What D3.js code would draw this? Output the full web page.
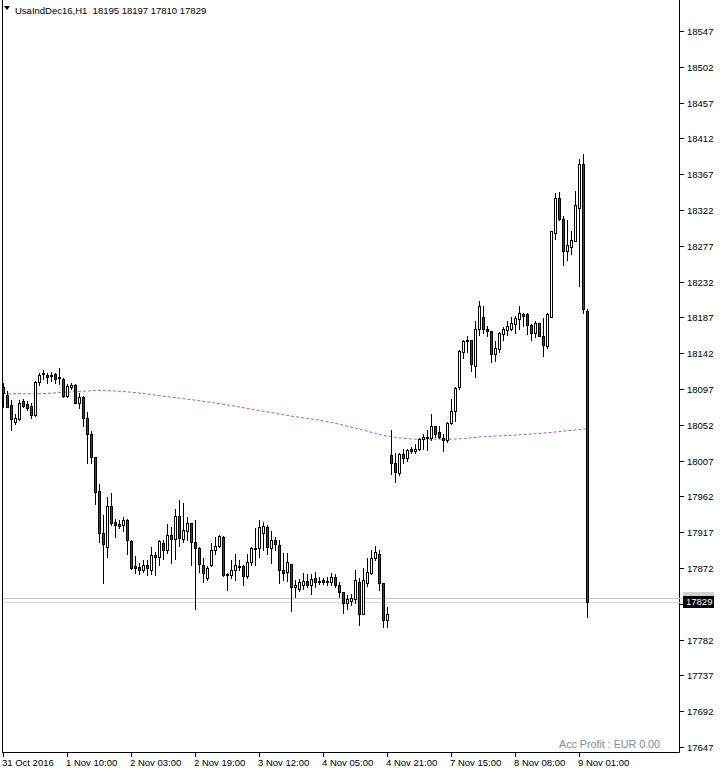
<!DOCTYPE html>
<html><head><meta charset="utf-8">
<script src="https://cdn.jsdelivr.net/npm/d3@7"></script>
<style>
html,body{margin:0;padding:0;background:#fff;}
svg text{font-family:'Liberation Sans Narrow','Liberation Sans',Arial,sans-serif;font-size:9.5px;}
svg text.profit{font-size:10.7px;}
</style></head>
<body>
<svg id="c" width="720" height="773"></svg>
<script>
const symbolTitle = "UsaIndDec16,H1";
const timeLabels = ["31 Oct 2016","1 Nov 10:00","2 Nov 03:00","2 Nov 19:00","3 Nov 12:00","4 Nov 05:00","4 Nov 21:00","7 Nov 15:00","8 Nov 08:00","9 Nov 01:00"];
const timeLabelIndex = [0,16,32,48,64,80,96,112,128,144];
const priceTicks = [18547,18502,18457,18412,18367,18322,18277,18232,18187,18142,18097,18052,18007,17962,17917,17872,17827,17782,17737,17692,17647];
const bidPrice = 17829;
const askPrice = 17834;

const opens = [18099,18090,18077,18056,18059,18082,18078,18076,18064,18106,18116,18115,18113,18116,18112,18110,18088,18099,18102,18079,
18087,18060,18040,18011,17969,17916,17899,17950,17930,17927,17926,17932,17906,17874,17873,17870,17876,17870,17888,17886,
17903,17895,17914,17909,17937,17908,17918,17929,17905,17897,17876,17860,17876,17894,17900,17911,17864,17863,17869,17875,
17874,17862,17879,17897,17897,17916,17924,17897,17907,17901,17870,17867,17877,17848,17845,17851,17856,17851,17859,17856,
17857,17856,17854,17861,17851,17842,17828,17831,17833,17854,17814,17853,17866,17885,17890,17853,17807,18014,18004,17991,
18015,18010,18021,18019,18022,18034,18037,18036,18050,18043,18035,18033,18054,18069,18099,18144,18159,18159,18126,18173,
18187,18173,18170,18141,18147,18166,18171,18173,18179,18185,18191,18191,18177,18168,18180,18163,18151,18188,18293,18337,
18311,18271,18276,18283,18325,18380,18195];
const highs = [18104,18094,18083,18066,18083,18085,18082,18079,18107,18117,18121,18117,18118,18117,18124,18111,18103,18104,18103,18092,
18088,18068,18044,18011,17978,17939,17961,17966,17934,17932,17936,17933,17907,17887,17878,17882,17882,17899,17892,17907,
17907,17927,17923,17946,17957,17954,17936,17929,17932,17899,17884,17874,17904,17911,17913,17912,17866,17882,17890,17882,
17876,17890,17899,17922,17932,17930,17926,17918,17911,17907,17891,17891,17877,17857,17858,17866,17865,17864,17867,17861,
17859,17861,17866,17864,17855,17842,17838,17839,17869,17860,17872,17884,17894,17900,17894,17853,17823,18045,18016,18017,
18021,18022,18024,18028,18035,18040,18045,18066,18051,18050,18041,18056,18084,18099,18146,18159,18164,18159,18182,18208,
18201,18176,18170,18157,18169,18175,18182,18188,18189,18201,18192,18193,18179,18182,18180,18186,18193,18295,18343,18344,
18314,18309,18295,18346,18386,18392,18197];
const lows = [18074,18074,18046,18053,18058,18074,18071,18061,18063,18102,18110,18105,18107,18104,18103,18087,18087,18097,18079,18073,
18050,18004,18004,17953,17905,17853,17886,17926,17911,17922,17918,17890,17871,17866,17865,17867,17863,17865,17863,17876,
17883,17891,17878,17883,17900,17905,17907,17876,17821,17867,17855,17857,17874,17890,17899,17862,17844,17860,17857,17869,
17851,17860,17876,17876,17886,17895,17890,17878,17895,17853,17857,17856,17818,17836,17843,17846,17848,17839,17848,17852,
17852,17851,17851,17848,17835,17815,17820,17826,17828,17800,17814,17849,17864,17882,17844,17798,17798,17990,17980,17989,
18004,18006,18016,18016,18020,18022,18020,18033,18037,18035,18019,18031,18053,18057,18097,18136,18144,18119,18112,18165,
18168,18164,18131,18132,18144,18159,18165,18171,18168,18173,18176,18166,18158,18162,18163,18138,18149,18188,18286,18309,
18253,18259,18267,18283,18226,18193,17810];
const closes = [18092,18075,18059,18060,18080,18076,18073,18064,18106,18115,18117,18112,18115,18110,18111,18088,18101,18102,18080,18087,
18060,18040,18011,17968,17916,17902,17950,17929,17926,17925,17932,17907,17872,17872,17869,17876,17872,17888,17886,17906,
17895,17914,17908,17937,17910,17920,17928,17905,17897,17877,17866,17872,17894,17900,17912,17863,17863,17870,17876,17874,
17862,17879,17897,17896,17924,17925,17899,17907,17902,17870,17866,17879,17848,17851,17855,17856,17851,17858,17855,17854,
17854,17855,17861,17851,17842,17828,17833,17834,17857,17814,17857,17867,17885,17892,17853,17807,17814,18004,17993,18015,
18010,18020,18019,18021,18034,18037,18036,18050,18040,18037,18033,18054,18069,18098,18145,18157,18157,18128,18173,18201,
18172,18170,18141,18148,18167,18172,18176,18180,18186,18192,18189,18178,18168,18180,18164,18152,18191,18295,18337,18311,
18271,18278,18284,18328,18380,18197,17829];

// moving average read at every 8th bar
const maIndex = [0,8,16,24,32,40,48,56,64,72,80,88,96,104,112,120,128,136,144,146];
const maValues = [18091,18091,18093,18095,18093,18088,18083,18077,18070,18063,18057,18048,18038,18034,18034,18037,18039,18042,18046,18047];

const svg = d3.select("#c");
const plotLeft = 2, plotRight = 679, plotBottom = 752;
const x = d3.scaleLinear().domain([0, opens.length - 1]).range([3, 587]);
const y = d3.scaleLinear().domain([17647, 18547]).range([747, 31]);

// frame
svg.append("line").attr("x1", plotLeft + 0.5).attr("x2", plotLeft + 0.5).attr("y1", 0).attr("y2", plotBottom + 0.5).attr("stroke", "#000");
svg.append("line").attr("x1", plotLeft).attr("x2", plotRight + 0.5).attr("y1", plotBottom + 0.5).attr("y2", plotBottom + 0.5).attr("stroke", "#000");
svg.append("line").attr("x1", plotRight + 0.5).attr("x2", plotRight + 0.5).attr("y1", 0).attr("y2", plotBottom + 0.5).attr("stroke", "#000");

// ask / bid lines
const ya = Math.round(y(askPrice)), yb = Math.round(y(bidPrice));
svg.append("line").attr("x1", plotLeft + 1).attr("x2", plotRight + 4).attr("y1", ya + 0.5).attr("y2", ya + 0.5).attr("stroke", "#c8c8c8");
svg.append("line").attr("x1", plotLeft + 1).attr("x2", plotRight + 4).attr("y1", yb + 0.5).attr("y2", yb + 0.5).attr("stroke", "#d4d4ec");

// moving average
const maLine = d3.line().x((d, k) => x(maIndex[k])).y(d => y(d)).curve(d3.curveMonotoneX);
svg.append("path").attr("d", maLine(maValues)).attr("fill", "none").attr("stroke", "#bb55dd").attr("stroke-width", 1).attr("stroke-dasharray", "3,2");

// candles
const g = svg.append("g");
opens.forEach((o, i) => {
  const c = closes[i], h = highs[i], l = lows[i];
  const cx = Math.round(x(i));
  const yh = Math.round(y(h)), yl = Math.round(y(l));
  g.append("line").attr("x1", cx + 0.5).attr("x2", cx + 0.5).attr("y1", yh).attr("y2", yl + 1).attr("stroke", "#000");
  let top = Math.round(y(Math.max(o, c))), bot = Math.round(y(Math.min(o, c)));
  if (bot - top < 1) bot = top + 1;
  g.append("rect").attr("x", cx - 0.5).attr("y", top + 0.5).attr("width", 2).attr("height", bot - top)
    .attr("fill", c >= o ? "#fff" : "#dd0000").attr("stroke", "#000").attr("stroke-width", 1);
});

// price axis (the label hidden under the bid box is not written)
priceTicks.forEach(p => {
  const yy = Math.round(y(p)) + 0.5;
  svg.append("line").attr("x1", plotRight).attr("x2", plotRight + 5).attr("y1", yy).attr("y2", yy).attr("stroke", "#000");
  if (Math.abs(y(p) - y(bidPrice)) > 10)
    svg.append("text").attr("x", 687).attr("y", yy).attr("dy", "0.36em").attr("fill", "#000").text(p);
});

// ask label box (mostly hidden) and bid label
svg.append("rect").attr("x", 683).attr("y", ya - 6).attr("width", 31).attr("height", 12).attr("fill", "#d0d0d0");
svg.append("rect").attr("x", 683).attr("y", yb - 6).attr("width", 31).attr("height", 12).attr("fill", "#000");
svg.append("text").attr("x", 686).attr("y", yb).attr("dy", "0.36em").attr("fill", "#fff").text(bidPrice);

// time axis
timeLabelIndex.forEach((idx, k) => {
  const xx = Math.round(x(idx)) + 0.5;
  svg.append("line").attr("x1", xx).attr("x2", xx).attr("y1", plotBottom).attr("y2", plotBottom + 5).attr("stroke", "#000");
  svg.append("text").attr("x", xx - 1.5).attr("y", 766).attr("fill", "#000").text(timeLabels[k]);
});

// header
const last = opens.length - 1;
svg.append("path").attr("d", "M4,6 L10,6 L7,10 Z").attr("fill", "#000");
svg.append("text").attr("x", 15).attr("y", 14).attr("fill", "#000").attr("xml:space", "preserve")
  .text(symbolTitle + "  " + opens[last] + " " + highs[last] + " " + lows[last] + " " + closes[last]);

svg.append("text").attr("class", "profit").attr("x", 660).attr("y", 748).attr("text-anchor", "end").attr("fill", "#7b8ca2").text("Acc Profit : EUR 0.00");
</script>
</body></html>
